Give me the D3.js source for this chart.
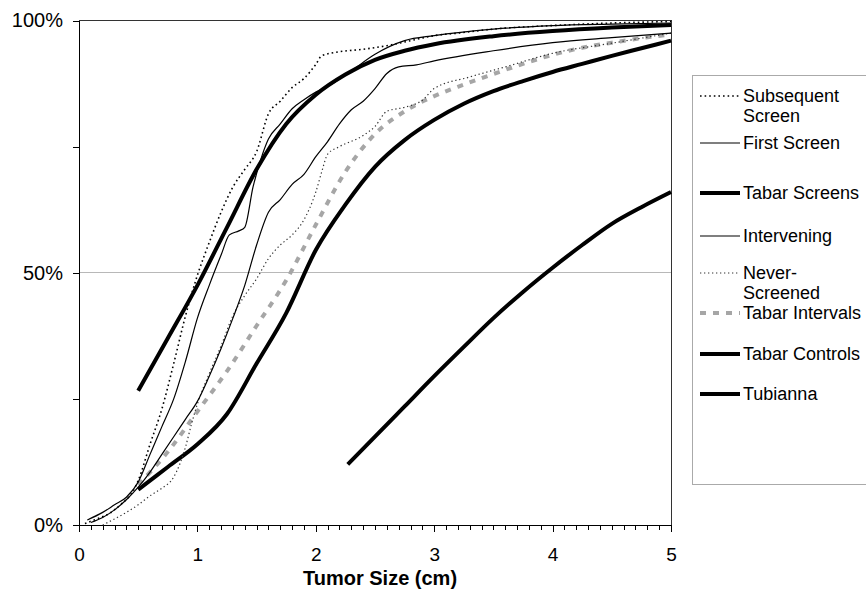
<!DOCTYPE html>
<html lang="en">
<head>
  <meta charset="UTF-8" />
  <title>Tumor size distribution</title>
  <style>
    body { margin: 0; background: #fff; }
    svg { display: block; font-family: "Liberation Sans", Arial, sans-serif; }
    .axis path, .axis line { stroke: #000; stroke-width: 1px; shape-rendering: crispEdges; }
    .axis text { font-size: 20px; fill: #000; }
    .x-axis text { font-size: 19px; }
    .grid-line { stroke: #b8b8b8; stroke-width: 1px; shape-rendering: crispEdges; }
    .frame { fill: none; stroke: #333; stroke-width: 1px; shape-rendering: crispEdges; }
    .legend-box { fill: #fff; stroke: #aaa; stroke-width: 1px; shape-rendering: crispEdges; }
    .legend text { font-size: 18px; fill: #000; }
    .x-title { font-size: 20px; font-weight: bold; }
  </style>
</head>
<body>
  <script src="https://cdn.jsdelivr.net/npm/d3@7"></script>
  <script>
    // [tumor size (cm), cumulative %]
    var subsequentScreen = [[0.05,0.3],[0.15,1.2],[0.25,2.2],[0.35,4],[0.45,6.5],[0.5,8.8],[0.6,16],[0.7,23],[0.8,32],[0.9,41.5],[1.0,49.5],[1.1,56],[1.2,62],[1.3,67],[1.4,70.5],[1.5,74],[1.6,81.5],[1.7,84],[1.8,86.7],[1.9,88.5],[2.0,91.3],[2.05,93],[2.2,93.8],[2.4,94.3],[2.6,95],[2.8,96],[3.0,97],[3.2,97.5],[3.5,98.3],[4.0,99],[4.5,99.5],[5.0,99.8]];
    var firstScreen = [[0.07,1],[0.2,2.5],[0.3,4],[0.4,5.5],[0.5,8.5],[0.6,14],[0.7,19.5],[0.8,25],[0.9,32.5],[1.0,41],[1.1,47.5],[1.2,53.5],[1.27,57.5],[1.35,58.3],[1.4,59],[1.47,67],[1.55,73.5],[1.6,76.5],[1.7,79.5],[1.8,82.5],[1.9,84.3],[2.0,85.8],[2.15,87.6],[2.3,90],[2.5,93.3],[2.75,96],[3.0,97],[3.5,98.3],[4.0,99],[4.5,99.3],[5.0,99.5]];
    var tabarScreens = [[0.5,26.6],[0.75,37],[1.0,47.5],[1.25,59],[1.5,70.5],[1.75,79.5],[2.0,85.3],[2.25,89.3],[2.5,92.2],[2.75,94],[3.0,95.3],[3.5,96.9],[4.0,97.9],[4.5,98.6],[5.0,99.1]];
    var intervening = [[0.1,0.5],[0.2,1.5],[0.3,3],[0.4,5],[0.5,7.5],[0.6,10.5],[0.7,14],[0.8,17.5],[0.9,21],[1.0,24.5],[1.1,29.5],[1.2,35],[1.3,41],[1.4,47.5],[1.5,55.5],[1.6,62],[1.7,64.5],[1.8,67.5],[1.9,69.5],[2.0,73],[2.1,76],[2.2,79.5],[2.3,82.3],[2.4,84],[2.5,86.5],[2.6,89.5],[2.7,90.8],[2.85,91.2],[3.0,92],[3.5,94],[4.0,95.6],[4.5,96.6],[5.0,97.5]];
    var neverScreened = [[0.2,0],[0.3,1.2],[0.4,2.5],[0.5,4],[0.6,5.8],[0.7,7.3],[0.8,9.5],[0.85,12],[0.9,15.5],[0.95,20],[1.0,24],[1.1,30],[1.2,35.5],[1.3,41.5],[1.4,45.5],[1.5,48.8],[1.6,52.8],[1.7,55.5],[1.8,57.5],[1.9,60.5],[2.0,66],[2.05,70],[2.1,73.5],[2.2,75],[2.4,77.2],[2.5,79],[2.6,82],[2.75,82.8],[2.9,84.2],[3.0,86.5],[3.3,88.8],[3.6,90.8],[4.0,93.5],[4.5,95.5],[5.0,97.5]];
    var tabarIntervals = [[0.5,8],[0.75,14.5],[1.0,22.5],[1.25,30.5],[1.5,39.5],[1.75,48.5],[2.0,59.5],[2.25,70],[2.5,77.5],[2.75,82],[3.0,85],[3.25,87.3],[3.5,89.4],[3.75,91.4],[4.0,93.2],[4.25,94.6],[4.5,95.6],[4.75,96.5],[5.0,97.2]];
    var tabarControls = [[0.5,7],[0.75,11.5],[1.0,16],[1.25,22],[1.5,32],[1.75,42],[2.0,54.5],[2.25,63.5],[2.5,71],[2.75,76.3],[3.0,80.3],[3.25,83.5],[3.5,86],[3.75,88],[4.0,89.8],[4.25,91.4],[4.5,93],[4.75,94.5],[5.0,96]];
    var tubianna = [[2.27,12],[2.5,17.5],[2.75,23.5],[3.0,29.5],[3.25,35.3],[3.5,41],[3.75,46.2],[4.0,51],[4.25,55.5],[4.5,59.7],[4.75,63],[5.0,66]];

    var xTicks = [0, 1, 2, 3, 4, 5];
    var yTicks = [0, 25, 50, 75, 100];
    var yLabels = [0, 50, 100];

    // legend text lines, data, style
    var series = [
      { lines: ["Subsequent", "Screen"], data: subsequentScreen, color: "#000", width: 1.6, dash: "1.6,3", ly: 96 },
      { lines: ["First Screen"], data: firstScreen, color: "#000", width: 1.2, dash: null, ly: 143 },
      { lines: ["Tabar Screens"], data: tabarScreens, color: "#000", width: 4, dash: null, ly: 193 },
      { lines: ["Intervening"], data: intervening, color: "#000", width: 1.2, dash: null, ly: 236 },
      { lines: ["Never-", "Screened"], data: neverScreened, color: "#333", width: 1.2, dash: "1.3,2.7", ly: 273 },
      { lines: ["Tabar Intervals"], data: tabarIntervals, color: "#a6a6a6", width: 4, dash: "6,7", ly: 313 },
      { lines: ["Tabar Controls"], data: tabarControls, color: "#000", width: 4, dash: null, ly: 354 },
      { lines: ["Tubianna"], data: tubianna, color: "#000", width: 4, dash: null, ly: 394 }
    ];

    var w = 866;
    var h = 589;
    var plot = { left: 79, right: 671, top: 20.5, bottom: 525 };

    var svg = d3.select("body").append("svg")
      .attr("width", w)
      .attr("height", h);

    var xScale = d3.scaleLinear().domain([0, 5]).range([plot.left, plot.right]);
    var yScale = d3.scaleLinear().domain([0, 100]).range([plot.bottom, plot.top]);

    // 50% gridline
    svg.append("line")
      .attr("class", "grid-line")
      .attr("x1", plot.left).attr("x2", plot.right)
      .attr("y1", yScale(50)).attr("y2", yScale(50));

    svg.append("rect")
      .attr("class", "frame")
      .attr("x", plot.left).attr("y", plot.top)
      .attr("width", plot.right - plot.left)
      .attr("height", plot.bottom - plot.top);

    // minor x ticks
    var minor = d3.range(0, 51).map(function(i) { return i / 10; });
    svg.append("g")
      .attr("class", "axis")
      .attr("transform", "translate(0," + plot.bottom + ")")
      .call(d3.axisBottom(xScale).tickValues(minor).tickSize(5).tickFormat(""))
      .select(".domain").remove();

    var xAxis = d3.axisBottom(xScale)
      .tickValues(xTicks)
      .tickSize(7)
      .tickPadding(16)
      .tickFormat(d3.format("d"));

    svg.append("g")
      .attr("class", "axis x-axis")
      .attr("transform", "translate(0," + plot.bottom + ")")
      .call(xAxis);

    var yAxis = d3.axisLeft(yScale)
      .tickValues(yTicks)
      .tickSize(6)
      .tickPadding(10)
      .tickFormat(function(d) { return yLabels.indexOf(d) >= 0 ? d + "%" : ""; });

    svg.append("g")
      .attr("class", "axis")
      .attr("transform", "translate(" + plot.left + ",0)")
      .call(yAxis);

    svg.append("text")
      .attr("class", "x-title")
      .attr("x", 380)
      .attr("y", 584.5)
      .attr("text-anchor", "middle")
      .text("Tumor Size (cm)");

    var line = d3.line()
      .x(function(d) { return xScale(d[0]); })
      .y(function(d) { return yScale(d[1]); })
      .curve(d3.curveMonotoneX);

    var drawOrder = [7, 6, 5, 4, 3, 2, 1, 0];
    drawOrder.forEach(function(i) {
      var s = series[i];
      svg.append("path")
        .datum(s.data)
        .attr("fill", "none")
        .attr("stroke", s.color)
        .attr("stroke-width", s.width)
        .attr("stroke-dasharray", s.dash)
        .attr("stroke-linejoin", "round")
        .attr("d", line);
    });

    // legend
    var legend = svg.append("g").attr("class", "legend");
    legend.append("rect")
      .attr("class", "legend-box")
      .attr("x", 692.5).attr("y", 75.5)
      .attr("width", 200).attr("height", 409);

    series.forEach(function(s) {
      legend.append("line")
        .attr("x1", 700).attr("x2", 740)
        .attr("y1", s.ly).attr("y2", s.ly)
        .attr("stroke", s.color)
        .attr("stroke-width", s.width)
        .attr("stroke-dasharray", s.dash);
      s.lines.forEach(function(t, j) {
        legend.append("text")
          .attr("x", 743)
          .attr("y", s.ly + j * 20)
          .attr("dy", "0.35em")
          .text(t);
      });
    });
  </script>
</body>
</html>
